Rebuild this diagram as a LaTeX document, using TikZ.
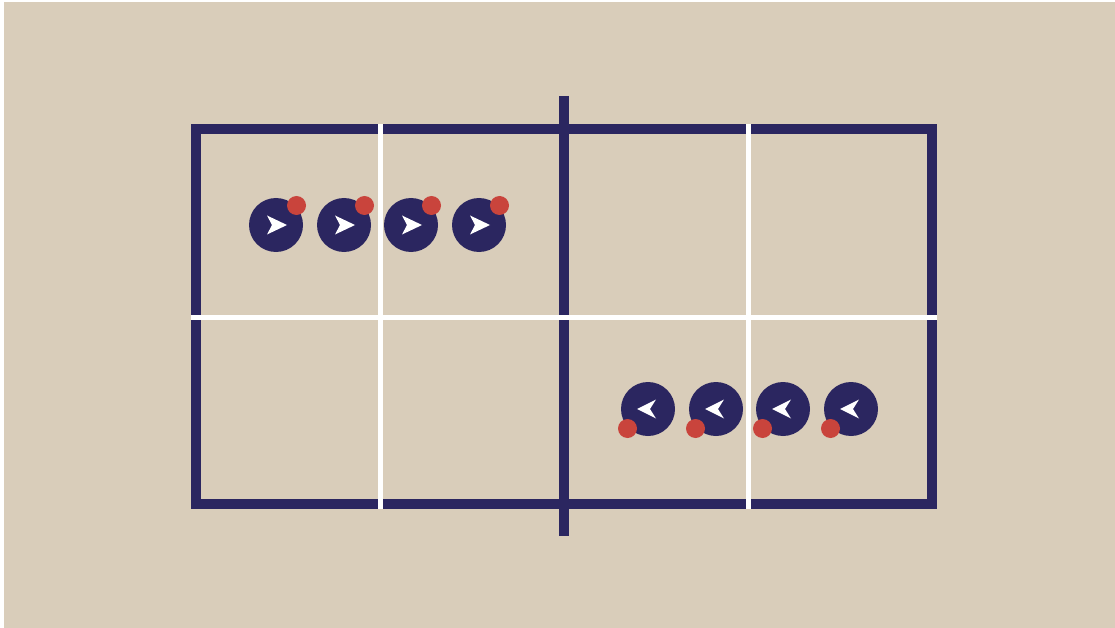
\documentclass[tikz,border=0pt]{standalone}
\usepackage{tikz}
\usepackage{xcolor}
\definecolor{courtblue}{RGB}{43,38,96}
\definecolor{floorbeige}{RGB}{217,205,186}
\definecolor{ballred}{RGB}{201,68,60}
\tikzset{
  player/.style={circle,fill=courtblue,minimum size=54pt,inner sep=0pt},
  ball/.style={circle,fill=ballred,minimum size=19pt,inner sep=0pt},
  courtline/.style={courtblue,line width=10pt},
  whiteline/.style={white,line width=5pt}
}
\begin{document}
\begin{tikzpicture}[x=1pt,y=-1pt]
  \fill[white] (0,0) rectangle (1115,628);
  \fill[floorbeige] (4,2) rectangle (1115,628);
  % court and net
  \draw[courtline] (196,129.5) rectangle (932,504);
  \draw[courtline] (564,96) -- (564,536);
  \draw[whiteline] (380,124.5) -- (380,509);
  \draw[whiteline] (748,124.5) -- (748,509);
  \draw[whiteline] (191,317) -- (937,317);
  % left team
  \foreach \i/\x in {1/276,2/344,3/411,4/479} {
    \node[player] (p\i) at (\x,225) {};
    \fill[white] ([shift={(11,0)}]p\i.center) -- ([shift={(-9,-9.5)}]p\i.center)
      -- ([shift={(-4,0)}]p\i.center) -- ([shift={(-9,9.5)}]p\i.center) -- cycle;
    \node[ball] (b\i) at ([shift={(20.5,-19.5)}]p\i.center) {};
  }
  % right team
  \foreach \i/\x in {1/648,2/716,3/783,4/851} {
    \node[player] (q\i) at (\x,409) {};
    \fill[white] ([shift={(-11,0)}]q\i.center) -- ([shift={(8,-9.5)}]q\i.center)
      -- ([shift={(2,0)}]q\i.center) -- ([shift={(8,9.5)}]q\i.center) -- cycle;
    \node[ball] (c\i) at ([shift={(-20.5,19.5)}]q\i.center) {};
  }
\end{tikzpicture}
\end{document}
